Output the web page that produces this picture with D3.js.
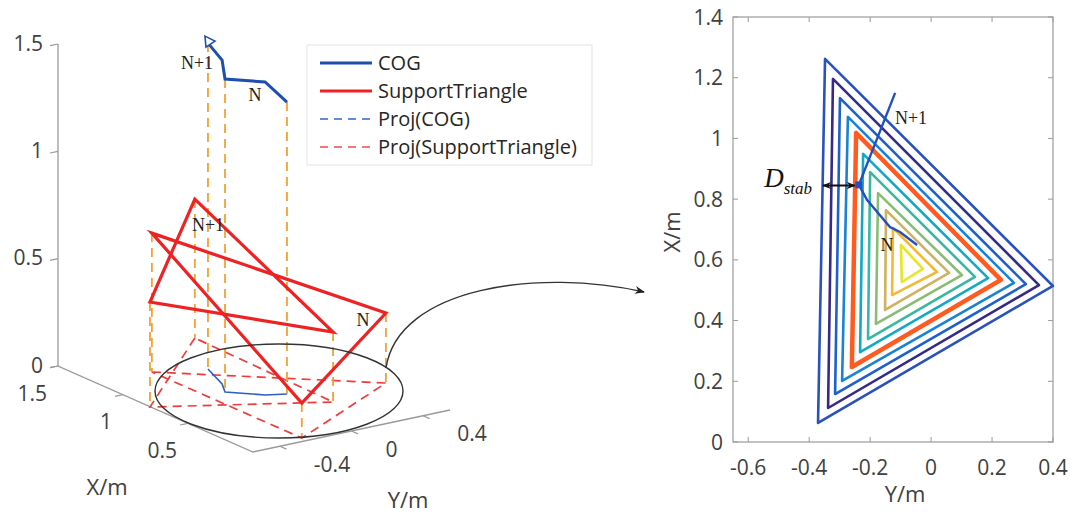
<!DOCTYPE html>
<html><head><meta charset="utf-8">
<script src="https://cdn.jsdelivr.net/npm/d3@7"></script>
<style>body{margin:0;background:#fff} svg{display:block}</style>
</head><body>
<svg id="c" width="1070" height="513"></svg>
<script>
// ================= DATA =================
// Left panel (3D): points as [X, Y, Z] in metres
const triN1 = [[1.486, 0.204, 0.647], [0.787, -0.554, 0.489], [0.387, 0.178, 0.326]];
const triN  = [[1.194, -0.248, 0.647], [0.478, 0.539, 0.326], [0.042, -0.247, 0.163]];
const cog3d = [[1.089, -0.011, 1.518], [0.877, -0.086, 1.509], [0.776, -0.143, 1.458], [0.640, -0.018, 1.458], [0.597, 0.073, 1.36]];
const cogDropIdx = [0, 2, 4];
const xTicks3 = [1.5, 1, 0.5];
const yTicks3 = [-0.4, 0, 0.4];
const zTicks3 = [0, 0.5, 1, 1.5];
const legendLabels = ["COG", "SupportTriangle", "Proj(COG)", "Proj(SupportTriangle)"];

// Right panel (plan view): vertices as [Y, X] in metres, outer -> inner
const contours = [
  [[-0.348, 1.262], [-0.371, 0.063], [0.400, 0.514]],
  [[-0.322, 1.196], [-0.338, 0.112], [0.354, 0.517]],
  [[-0.299, 1.133], [-0.315, 0.158], [0.311, 0.520]],
  [[-0.273, 1.071], [-0.292, 0.201], [0.272, 0.524]],
  [[-0.246, 1.018], [-0.260, 0.247], [0.229, 0.534]],
  [[-0.223, 0.949], [-0.233, 0.296], [0.187, 0.540]],
  [[-0.200, 0.889], [-0.207, 0.339], [0.144, 0.544]],
  [[-0.174, 0.820], [-0.181, 0.389], [0.101, 0.550]],
  [[-0.148, 0.764], [-0.151, 0.435], [0.059, 0.557]],
  [[-0.125, 0.705], [-0.128, 0.484], [0.019, 0.560]],
  [[-0.099, 0.649], [-0.096, 0.527], [-0.027, 0.570]]
];
const supportIdx = 4;
const cogPlan = [[-0.118, 1.150], [-0.237, 0.847], [-0.210, 0.797], [-0.135, 0.708], [-0.102, 0.692], [-0.046, 0.649]];
const cogMarkIdx = 1;
const dStab = {y1: -0.355, y2: -0.250, x: 0.845};
const yTicksR = [-0.6, -0.4, -0.2, 0, 0.2, 0.4];
const xTicksR = [0, 0.2, 0.4, 0.6, 0.8, 1, 1.2, 1.4];

// ================= STYLE =================
const contourColors = ["#2a52be", "#352a87", "#1e5fd0", "#1a82d4", "#ff5a1f", "#12a9c4", "#38b89e", "#8abd74", "#d0b15e", "#f5b93a", "#e6e625"];
const tickFont = "'Open Sans', 'Noto Sans', sans-serif";
const tickCol = "#404040";
const axisCol = "#9a9a9a";

const svg = d3.select("#c");
svg.append("rect").attr("width", 1070).attr("height", 513).attr("fill", "#fff");
const defs = svg.append("defs");

// ================= LEFT 3D PANEL =================
const xS = d3.scaleLinear().domain([0, 1.5]).range([[253, 452], [58, 366]]);
const yS = d3.scaleLinear().domain([-0.55, 0.55]).range([[0, 0], [197, -42]]);
const zS = d3.scaleLinear().domain([0, 1.5]).range([0, -322]);
const P = (p) => { const a = xS(p[0]), b = yS(p[1]); return [a[0] + b[0], a[1] + b[1] + zS(p[2])]; };
const floor = (p) => [p[0], p[1], 0];
const L = svg.append("g");
const lineC = d3.line().curve(d3.curveLinearClosed);
const lineO = d3.line();

// axes
L.append("path").attr("d", lineO([P([1.5, -0.55, 1.5]), P([1.5, -0.55, 0]), P([0, -0.55, 0]), P([0, 0.55, 0])]))
  .attr("fill", "none").attr("stroke", axisCol).attr("stroke-width", 1.3);
zTicks3.forEach(z => {
  const p = P([1.5, -0.55, z]);
  L.append("line").attr("x1", p[0]).attr("y1", p[1]).attr("x2", p[0] - 8).attr("y2", p[1] + 1.7).attr("stroke", axisCol).attr("stroke-width", 1.2);
  L.append("text").attr("x", p[0] - 15).attr("y", p[1] - 1).attr("dy", "0.36em").attr("text-anchor", "end")
    .attr("font-family", tickFont).attr("font-size", 21).attr("fill", tickCol).text(z);
});
xTicks3.forEach(x => {
  const p = P([x, -0.55, 0]);
  L.append("line").attr("x1", p[0]).attr("y1", p[1]).attr("x2", p[0] - 8).attr("y2", p[1] + 1.7).attr("stroke", axisCol).attr("stroke-width", 1.2);
  L.append("text").attr("x", p[0] - 11).attr("y", p[1] + 27).attr("dy", "0.36em").attr("text-anchor", "end")
    .attr("font-family", tickFont).attr("font-size", 21).attr("fill", tickCol).text(x);
});
yTicks3.forEach(y => {
  const p = P([0, y, 0]);
  L.append("line").attr("x1", p[0]).attr("y1", p[1]).attr("x2", p[0] + 6.5).attr("y2", p[1] + 2.9).attr("stroke", axisCol).attr("stroke-width", 1.2);
  L.append("text").attr("x", p[0] + 34).attr("y", p[1] + 18).attr("dy", "0.36em").attr("text-anchor", "start")
    .attr("font-family", tickFont).attr("font-size", 21).attr("fill", tickCol).text(y);
});
L.append("text").attr("x", 107).attr("y", 487).attr("dy", "0.36em").attr("text-anchor", "middle")
  .attr("font-family", tickFont).attr("font-size", 22).attr("fill", tickCol).text("X/m");
L.append("text").attr("x", 408).attr("y", 500).attr("dy", "0.36em").attr("text-anchor", "middle")
  .attr("font-family", tickFont).attr("font-size", 22).attr("fill", tickCol).text("Y/m");

// projections on floor
[triN1, triN].forEach(t => {
  L.append("path").attr("d", lineC(t.map(p => P(floor(p))))).attr("fill", "none")
    .attr("stroke", "#f03c3c").attr("stroke-width", 1.7).attr("stroke-dasharray", "9,6");
});
L.append("path").attr("d", lineO(cog3d.map(p => P(floor(p))))).attr("fill", "none")
  .attr("stroke", "#2f5fbf").attr("stroke-width", 1.6);

// vertical drop lines
const drops = [...triN1, ...triN, ...cogDropIdx.map(i => cog3d[i])];
drops.forEach(p => {
  const a = P(p), b = P(floor(p));
  L.append("line").attr("x1", a[0]).attr("y1", a[1]).attr("x2", b[0]).attr("y2", b[1])
    .attr("stroke", "#f5a032").attr("stroke-width", 1.8).attr("stroke-dasharray", "9,6");
});

// support triangles
[triN1, triN].forEach(t => {
  L.append("path").attr("d", lineC(t.map(P))).attr("fill", "none")
    .attr("stroke", "#ee2222").attr("stroke-width", 3.2).attr("stroke-linejoin", "miter");
});
// COG trajectory
L.append("path").attr("d", lineO(cog3d.map(P))).attr("fill", "none")
  .attr("stroke", "#1f4fae").attr("stroke-width", 3);
{
  const t = P(cog3d[0]);
  L.append("path").attr("d", `M${t[0]-3},${t[1]-7} L${t[0]+7},${t[1]-2} L${t[0]-2},${t[1]+4} Z`)
    .attr("fill", "#fff").attr("stroke", "#1f4fae").attr("stroke-width", 1.6);
}
// labels
const serif = "'Liberation Serif', 'DejaVu Serif', serif";
const lab = (x, y, s) => L.append("text").attr("x", x).attr("y", y).attr("dy", "0.36em").attr("text-anchor", "middle")
  .attr("font-family", serif).attr("font-size", 18).attr("fill", "#222").text(s);
lab(197, 63, "N+1"); lab(255, 95, "N"); lab(208, 225, "N+1"); lab(363, 320, "N");

// ellipse + curved arrow
L.append("ellipse").attr("cx", 279).attr("cy", 391).attr("rx", 124).attr("ry", 47)
  .attr("fill", "none").attr("stroke", "#333").attr("stroke-width", 1.4);
defs.append("marker").attr("id", "ah").attr("viewBox", "0 0 10 10").attr("refX", 9).attr("refY", 5)
  .attr("markerWidth", 10).attr("markerHeight", 10).attr("markerUnits", "userSpaceOnUse").attr("orient", "auto")
  .append("path").attr("d", "M0,1 L10,5 L0,9 L3,5 Z").attr("fill", "#222");
L.append("path").attr("d", "M386,368 C398,287 540,268 644,292").attr("fill", "none")
  .attr("stroke", "#333").attr("stroke-width", 1.4).attr("marker-end", "url(#ah)");

// legend
const lg = svg.append("g");
lg.append("rect").attr("x", 307).attr("y", 45).attr("width", 285).attr("height", 120)
  .attr("fill", "#fff").attr("stroke", "#e3e3e3").attr("stroke-width", 1);
const legStyle = [
  {c: "#1f4fae", w: 3, d: null}, {c: "#ee2222", w: 3, d: null},
  {c: "#3366cc", w: 1.6, d: "8,6"}, {c: "#f24a4a", w: 1.6, d: "8,6"}
];
legendLabels.forEach((s, i) => {
  const y = 63 + i * 28;
  lg.append("line").attr("x1", 320).attr("x2", 372).attr("y1", y).attr("y2", y)
    .attr("stroke", legStyle[i].c).attr("stroke-width", legStyle[i].w).attr("stroke-dasharray", legStyle[i].d);
  lg.append("text").attr("x", 378).attr("y", y).attr("dy", "0.36em").attr("font-family", tickFont)
    .attr("font-size", 20).attr("fill", "#262626").text(s);
});

// ================= RIGHT PANEL =================
const R = svg.append("g");
const xR = d3.scaleLinear().domain([-0.65, 0.4]).range([733, 1053]);
const yR = d3.scaleLinear().domain([0, 1.4]).range([442, 17]);
R.append("rect").attr("x", 733).attr("y", 17).attr("width", 320).attr("height", 425)
  .attr("fill", "none").attr("stroke", axisCol).attr("stroke-width", 1.2);
yTicksR.forEach(v => {
  const x = xR(v);
  R.append("line").attr("x1", x).attr("x2", x).attr("y1", 442).attr("y2", 437).attr("stroke", axisCol);
  R.append("line").attr("x1", x).attr("x2", x).attr("y1", 17).attr("y2", 22).attr("stroke", axisCol);
  R.append("text").attr("x", x).attr("y", 467).attr("dy", "0.36em").attr("text-anchor", "middle")
    .attr("font-family", tickFont).attr("font-size", 21).attr("fill", tickCol).text(v);
});
xTicksR.forEach(v => {
  const y = yR(v);
  R.append("line").attr("x1", 733).attr("x2", 738).attr("y1", y).attr("y2", y).attr("stroke", axisCol);
  R.append("line").attr("x1", 1053).attr("x2", 1048).attr("y1", y).attr("y2", y).attr("stroke", axisCol);
  R.append("text").attr("x", 723).attr("y", y).attr("dy", "0.36em").attr("text-anchor", "end")
    .attr("font-family", tickFont).attr("font-size", 21).attr("fill", tickCol).text(v);
});
R.append("text").attr("x", 905).attr("y", 494).attr("dy", "0.36em").attr("text-anchor", "middle")
  .attr("font-family", tickFont).attr("font-size", 22).attr("fill", tickCol).text("Y/m");
R.append("text").attr("transform", "translate(672,232) rotate(-90)").attr("dy", "0.36em").attr("text-anchor", "middle")
  .attr("font-family", tickFont).attr("font-size", 22).attr("fill", tickCol).text("X/m");

const lineR = d3.line().x(d => xR(d[0])).y(d => yR(d[1]));
contours.forEach((t, i) => {
  R.append("path").attr("d", lineR.curve(d3.curveLinearClosed)(t)).attr("fill", "none")
    .attr("stroke", contourColors[i]).attr("stroke-width", i === supportIdx ? 4.5 : 2.6).attr("stroke-linejoin", "round");
});
R.append("path").attr("d", lineR.curve(d3.curveLinear)(cogPlan)).attr("fill", "none")
  .attr("stroke", "#2350c0").attr("stroke-width", 2.4);
{
  const m = cogPlan[cogMarkIdx];
  R.append("rect").attr("x", xR(m[0]) - 3.5).attr("y", yR(m[1]) - 3.5).attr("width", 7).attr("height", 7).attr("fill", "#2350c0");
}
// D_stab arrow
defs.append("marker").attr("id", "ah2").attr("viewBox", "0 0 10 10").attr("refX", 9).attr("refY", 5)
  .attr("markerWidth", 9).attr("markerHeight", 9).attr("markerUnits", "userSpaceOnUse").attr("orient", "auto-start-reverse")
  .append("path").attr("d", "M0,1 L10,5 L0,9 L3,5 Z").attr("fill", "#111");
R.append("line").attr("x1", xR(dStab.y1)).attr("x2", xR(dStab.y2)).attr("y1", yR(dStab.x)).attr("y2", yR(dStab.x))
  .attr("stroke", "#111").attr("stroke-width", 1.8).attr("marker-start", "url(#ah2)").attr("marker-end", "url(#ah2)");
const dt = R.append("text").attr("x", 812).attr("y", yR(dStab.x) + 2).attr("text-anchor", "end")
  .attr("font-family", serif).attr("font-style", "italic").attr("fill", "#111");
dt.append("tspan").attr("font-size", 27).text("D");
dt.append("tspan").attr("font-size", 17).attr("dy", 7).text("stab");
R.append("text").attr("x", 911).attr("y", 118).attr("dy", "0.36em").attr("text-anchor", "middle")
  .attr("font-family", serif).attr("font-size", 18).attr("fill", "#222").text("N+1");
R.append("text").attr("x", 887).attr("y", 245).attr("dy", "0.36em").attr("text-anchor", "middle")
  .attr("font-family", serif).attr("font-size", 18).attr("fill", "#222").text("N");
</script>
</body></html>
